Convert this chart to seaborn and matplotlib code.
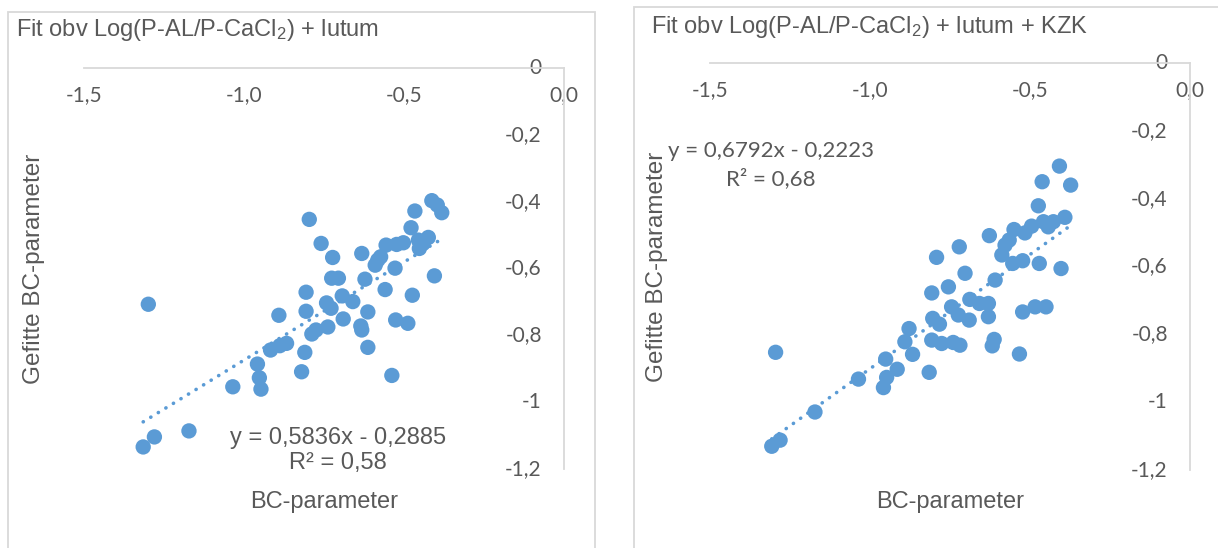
import matplotlib
matplotlib.use("Agg")
import matplotlib.pyplot as plt
from matplotlib.patches import Rectangle
import seaborn as sns
import pandas as pd

# ---------------- data ----------------
x_left = [-1.299, -1.315, -1.280, -1.172, -1.035, -0.958, -0.952, -0.947, -0.917, -0.891,
          -0.888, -0.867, -0.820, -0.810, -0.806, -0.806, -0.796, -0.788, -0.775, -0.759,
          -0.742, -0.738, -0.728, -0.723, -0.726, -0.705, -0.693, -0.690, -0.660, -0.632,
          -0.635, -0.632, -0.622, -0.613, -0.613, -0.590, -0.582, -0.573, -0.559, -0.556,
          -0.538, -0.528, -0.526, -0.523, -0.502, -0.488, -0.478, -0.474, -0.466, -0.455,
          -0.452, -0.440, -0.424, -0.413, -0.405, -0.396, -0.382]
y_left = [-0.707, -1.134, -1.104, -1.086, -0.954, -0.886, -0.927, -0.961, -0.844, -0.740,
          -0.831, -0.824, -0.909, -0.851, -0.728, -0.671, -0.453, -0.796, -0.784, -0.525,
          -0.703, -0.775, -0.719, -0.567, -0.629, -0.629, -0.682, -0.751, -0.699, -0.555,
          -0.772, -0.784, -0.632, -0.730, -0.836, -0.590, -0.575, -0.565, -0.663, -0.530,
          -0.920, -0.599, -0.754, -0.528, -0.523, -0.764, -0.478, -0.680, -0.428, -0.515,
          -0.540, -0.525, -0.507, -0.397, -0.622, -0.410, -0.433]

x_right = [-1.295, -1.307, -1.281, -1.172, -1.036, -0.958, -0.948, -0.951, -0.915, -0.891,
           -0.878, -0.867, -0.815, -0.807, -0.804, -0.807, -0.792, -0.783, -0.776, -0.755,
           -0.745, -0.740, -0.724, -0.721, -0.719, -0.703, -0.690, -0.688, -0.658, -0.630,
           -0.630, -0.627, -0.618, -0.612, -0.609, -0.588, -0.578, -0.565, -0.554, -0.550,
           -0.533, -0.523, -0.523, -0.516, -0.495, -0.484, -0.474, -0.471, -0.462, -0.458,
           -0.450, -0.443, -0.427, -0.408, -0.403, -0.391, -0.373]
y_right = [-0.853, -1.130, -1.112, -1.029, -0.932, -0.957, -0.927, -0.873, -0.903, -0.822,
           -0.783, -0.859, -0.912, -0.678, -0.753, -0.817, -0.573, -0.770, -0.827, -0.660,
           -0.719, -0.824, -0.743, -0.542, -0.832, -0.620, -0.758, -0.697, -0.709, -0.709,
           -0.748, -0.509, -0.834, -0.815, -0.640, -0.566, -0.537, -0.522, -0.591, -0.491,
           -0.858, -0.734, -0.583, -0.501, -0.481, -0.719, -0.421, -0.591, -0.350, -0.468,
           -0.719, -0.483, -0.468, -0.304, -0.606, -0.455, -0.360]

x_ticks = [-1.5, -1.0, -0.5, 0.0]
x_tick_labels = ["-1,5", "-1,0", "-0,5", "0,0"]
y_ticks = [0.0, -0.2, -0.4, -0.6, -0.8, -1.0, -1.2]
y_tick_labels = ["0", "-0,2", "-0,4", "-0,6", "-0,8", "-1", "-1,2"]

titles = ["Fit obv Log(P-AL/P-CaCl$_2$) + lutum",
          "Fit obv Log(P-AL/P-CaCl$_2$) + lutum + KZK"]
eq_texts = ["y = 0,5836x - 0,2885", "y = 0,6792x - 0,2223"]
r2_texts = ["R² = 0,58", "R² = 0,68"]
x_label = "BC-parameter"
y_label = "Gefitte BC-parameter"

# ---------------- style ----------------
sns.set_style("white")
plt.rcParams["font.family"] = ["Liberation Sans", "DejaVu Sans"]
plt.rcParams["mathtext.fontset"] = "custom"
plt.rcParams["mathtext.rm"] = "Liberation Sans"
plt.rcParams["mathtext.it"] = "Liberation Sans:italic"
plt.rcParams["mathtext.bf"] = "Liberation Sans:bold"

BLUE = "#5B9BD5"
TXT = "#595959"
LINE = "#D9D9D9"

W, H = 1218, 548
fig = plt.figure(figsize=(W / 100, H / 100), dpi=100)
fig.patch.set_facecolor("white")

# panel borders
fig.add_artist(Rectangle((8 / W, -0.05), 587 / W, (548 - 12) / H + 0.05,
                         transform=fig.transFigure, fill=False, edgecolor=LINE, lw=1.3))
fig.add_artist(Rectangle((634 / W, -0.05), 0.6, (548 - 7) / H + 0.05,
                         transform=fig.transFigure, fill=False, edgecolor=LINE, lw=1.3))

# axes boxes (pixel geometry)
boxes = [(84, 564, 68, 469), (710, 1190, 63, 470)]
datasets = [(x_left, y_left), (x_right, y_right)]
title_pos = [(16, 30), (651, 27)]
ylab_x = [45, 668]
eq_specs = [
    dict(eq=(338, 438), r2=(338, 463), family=["Liberation Sans"], size=17),
    dict(eq=(771, 151), r2=(771, 179), family=["Lato"], size=16),
]

for i in range(2):
    l, r, t, b = boxes[i]
    ax = fig.add_axes([l / W, (H - b) / H, (r - l) / W, (b - t) / H])
    ax.set_facecolor("none")
    xs, ys = datasets[i]
    df = pd.DataFrame({"x": xs, "y": ys})
    sns.scatterplot(data=df, x="x", y="y", ax=ax, color=BLUE, s=122,
                    edgecolor="none", linewidth=0, zorder=2)
    sns.regplot(data=df, x="x", y="y", ax=ax, scatter=False, ci=None, truncate=True,
                line_kws=dict(color=BLUE, lw=2.6, linestyle=(0, (0.05, 2.4)),
                              dash_capstyle="round", solid_capstyle="round", zorder=3))

    ax.set_xlim(-1.5, 0)
    ax.set_ylim(-1.2, 0)
    ax.set_xticks(x_ticks)
    ax.set_xticklabels(x_tick_labels)
    ax.set_yticks(y_ticks)
    ax.set_yticklabels(y_tick_labels)

    for s in ["left", "bottom"]:
        ax.spines[s].set_visible(False)
    for s in ["top", "right"]:
        ax.spines[s].set_visible(True)
        ax.spines[s].set_color(LINE)
        ax.spines[s].set_linewidth(1.3)

    ax.xaxis.set_ticks_position("top")
    ax.yaxis.set_ticks_position("right")
    ax.tick_params(axis="x", length=0, pad=-27, labelsize=15, labelcolor=TXT,
                   labeltop=True, labelbottom=False)
    ax.tick_params(axis="y", length=0, pad=-16, labelsize=15, labelcolor=TXT,
                   labelright=True, labelleft=False)
    for lbl in ax.get_xticklabels() + ax.get_yticklabels():
        lbl.set_fontfamily(["Lato", "DejaVu Sans"])
    for lbl in ax.get_yticklabels():
        lbl.set_horizontalalignment("right")
        lbl.set_verticalalignment("center")

    ax.grid(False)
    ax.set_xlabel(x_label, fontsize=17, color=TXT)
    ax.set_ylabel(y_label, fontsize=17.5, color=TXT)
    ax.xaxis.set_label_position("bottom")
    ax.yaxis.set_label_position("left")
    ax.xaxis.set_label_coords(0.5, (b - 491) / (b - t))
    ax.yaxis.set_label_coords((ylab_x[i] - l) / (r - l), 0.5)

    spec = eq_specs[i]
    ex, ey = spec["eq"]
    rx, ry = spec["r2"]
    ax.text((ex - l) / (r - l), (b - ey) / (b - t), eq_texts[i], transform=ax.transAxes,
            ha="center", va="center", color=TXT, fontsize=spec["size"],
            family=spec["family"] + ["DejaVu Sans"])
    ax.text((rx - l) / (r - l), (b - ry) / (b - t), r2_texts[i], transform=ax.transAxes,
            ha="center", va="center", color=TXT, fontsize=spec["size"],
            family=spec["family"] + ["DejaVu Sans"])

    tx, ty = title_pos[i]
    fig.text(tx / W, (H - ty) / H, titles[i], ha="left", va="center",
             fontsize=17, color=TXT)

fig.savefig("out.png", dpi=100, facecolor="white")
